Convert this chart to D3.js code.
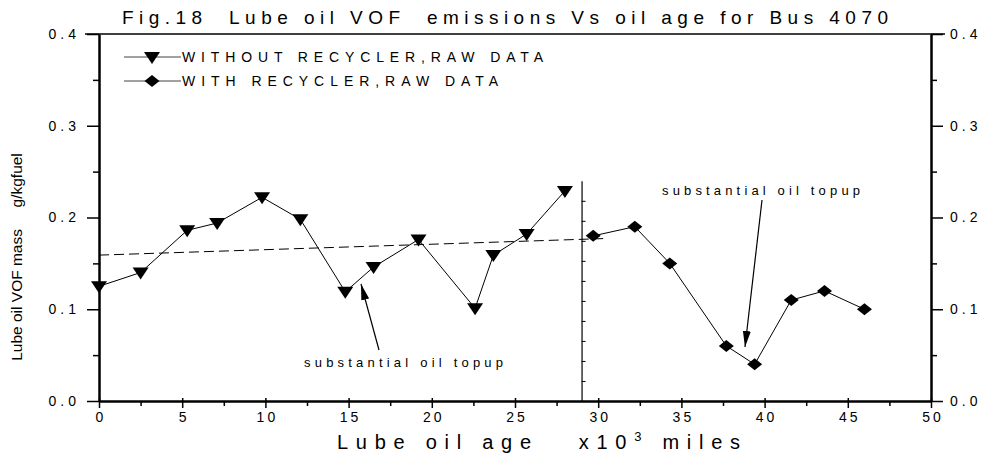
<!DOCTYPE html>
<html>
<head>
<meta charset="utf-8">
<script src="https://cdn.jsdelivr.net/npm/d3@7"></script>
<style>
  body { margin: 0; background: #fff; }
  svg text { font-family: "Liberation Sans", Arial, sans-serif; fill: #000; }
</style>
</head>
<body>
<div id="chart"></div>
<script>
var svgWidth = 982;
var svgHeight = 461;

// data (x = oil age in 1000 miles, y = g/kgfuel)
var withoutAge = [0, 2.5, 5.3, 7.1, 9.8, 12.1, 14.8, 16.5, 19.2, 22.6, 23.7, 25.7, 28.0];
var withoutVOF = [0.125, 0.140, 0.186, 0.194, 0.222, 0.198, 0.119, 0.146, 0.176, 0.101, 0.159, 0.182, 0.229];
var withAge = [29.7, 32.2, 34.3, 37.7, 39.4, 41.6, 43.6, 46.0];
var withVOF = [0.180, 0.190, 0.150, 0.060, 0.040, 0.110, 0.120, 0.100];
var trendAge = [0, 30.3];
var trendVOF = [0.159, 0.177];
var dividerAge = 29;
var dividerTop = 0.24;
var xMajor = [0, 5, 10, 15, 20, 25, 30, 35, 40, 45, 50];
var xMinor = [2.5, 7.5, 12.5, 17.5, 22.5, 27.5, 32.5, 37.5, 42.5, 47.5];
var yMajor = [0, 0.1, 0.2, 0.3, 0.4];
var yMinor = [0.05, 0.15, 0.25, 0.35];
var seriesNames = ["WITHOUT RECYCLER,RAW DATA", "WITH RECYCLER,RAW DATA"];

var svg = d3.select("#chart").append("svg")
  .attr("width", svgWidth)
  .attr("height", svgHeight);

var x = d3.scaleLinear().domain([0, 50]).range([99, 931]);
var y = d3.scaleLinear().domain([0, 0.4]).range([401, 34]);

// title
svg.append("text")
  .attr("x", 505).attr("y", 24)
  .attr("text-anchor", "middle")
  .attr("textLength", 766).attr("lengthAdjust", "spacing")
  .style("font-size", "19px")
  .style("white-space", "pre")
  .text("Fig.18  Lube oil VOF  emissions Vs oil age for Bus 4070");

// top frame
svg.append("line")
  .attr("x1", x(0) - 14).attr("x2", x(50) + 14)
  .attr("y1", y(0.4)).attr("y2", y(0.4))
  .attr("stroke", "#000").attr("stroke-width", 1.5);

function styleAxis(g, w) {
  g.select(".domain").attr("stroke-width", w);
  g.selectAll(".tick line").attr("stroke-width", 1.5);
  g.selectAll("text").style("font-size", "14px").style("font-family", "Liberation Sans, Arial, sans-serif");
}

// left axis
var leftMinor = svg.append("g").attr("transform", `translate(${x(0)},0)`)
  .call(d3.axisLeft(y).tickValues(yMinor).tickSize(6).tickFormat(""));
leftMinor.select(".domain").remove();
leftMinor.selectAll(".tick line").attr("stroke-width", 1.5);
var leftAxis = svg.append("g").attr("transform", `translate(${x(0)},0)`)
  .call(d3.axisLeft(y).tickValues(yMajor).tickSizeInner(12).tickSizeOuter(0).tickPadding(11).tickFormat(d3.format(".1f")));
styleAxis(leftAxis, 2.5);
leftAxis.selectAll("text").style("letter-spacing", "4px").attr("dx", "4px");

// right axis
var rightMinor = svg.append("g").attr("transform", `translate(${x(50)},0)`)
  .call(d3.axisRight(y).tickValues(yMinor).tickSize(6).tickFormat(""));
rightMinor.select(".domain").remove();
rightMinor.selectAll(".tick line").attr("stroke-width", 1.5);
var rightAxis = svg.append("g").attr("transform", `translate(${x(50)},0)`)
  .call(d3.axisRight(y).tickValues(yMajor).tickSizeInner(12).tickSizeOuter(0).tickPadding(7).tickFormat(d3.format(".1f")));
styleAxis(rightAxis, 2.5);
rightAxis.selectAll("text").style("letter-spacing", "4px");

// bottom axis
var bottomMinor = svg.append("g").attr("transform", `translate(0,${y(0)})`)
  .call(d3.axisBottom(x).tickValues(xMinor).tickSize(5).tickFormat(""));
bottomMinor.select(".domain").remove();
bottomMinor.selectAll(".tick line").attr("stroke-width", 1.5);
var bottomAxis = svg.append("g").attr("transform", `translate(0,${y(0)})`)
  .call(d3.axisBottom(x).tickValues(xMajor).tickSizeInner(7).tickSizeOuter(0).tickPadding(4));
styleAxis(bottomAxis, 2.5);
bottomAxis.selectAll(".tick line").attr("y1", -3);
bottomAxis.selectAll("text").style("letter-spacing", "3px").attr("dx", "1.5px");

// axis titles
var xTitle = svg.append("text")
  .attr("x", 337).attr("y", 449)
  .style("font-size", "20px")
  .style("white-space", "pre");
xTitle.append("tspan").text("Lube oil age   x10");
xTitle.append("tspan").attr("dy", -8).style("font-size", "13px").text("3");
xTitle.append("tspan").attr("dy", 8).text(" miles");
// spread the letters to the width seen in the figure
var natural = xTitle.node().getComputedTextLength();
var nChars = xTitle.text().length;
xTitle.style("letter-spacing", ((403 - natural) / (nChars - 1)) + "px");

svg.append("text")
  .attr("transform", `translate(22,${257}) rotate(-90)`)
  .attr("text-anchor", "middle")
  .style("font-size", "15.5px")
  .style("white-space", "pre")
  .text("Lube oil VOF mass     g/kgfuel");

// divider with its own little tick scale
var divY = d3.scaleLinear().domain([0, 11]).range([y(0), y(dividerTop)]);
var divider = svg.append("g").attr("transform", `translate(${x(dividerAge)},0)`)
  .call(d3.axisRight(divY).tickValues(d3.range(1, 11)).tickSizeInner(4).tickSizeOuter(0).tickFormat(""));
divider.select(".domain").attr("stroke-width", 1.2);
divider.selectAll(".tick line").attr("stroke-width", 1);

// dashed trend line
var trend = trendAge.map((d, i) => [d, trendVOF[i]]);
svg.append("path")
  .datum(trend)
  .attr("d", d3.line().x(d => x(d[0])).y(d => y(d[1])))
  .attr("fill", "none").attr("stroke", "#000").attr("stroke-width", 1)
  .attr("stroke-dasharray", "10,5");

var line = d3.line().x(d => x(d[0])).y(d => y(d[1]));
var withoutData = withoutAge.map((d, i) => [d, withoutVOF[i]]);
var withData = withAge.map((d, i) => [d, withVOF[i]]);

svg.append("path").datum(withoutData).attr("d", line)
  .attr("fill", "none").attr("stroke", "#000").attr("stroke-width", 1);
svg.append("path").datum(withData).attr("d", line)
  .attr("fill", "none").attr("stroke", "#000").attr("stroke-width", 1);

var triPath = "M-8,-5L8,-5L0,7Z";
var diaPath = "M-7.5,0L0,-6L7.5,0L0,6Z";

svg.selectAll(".tri").data(withoutData).enter().append("path")
  .attr("class", "tri")
  .attr("transform", d => `translate(${x(d[0])},${y(d[1])})`)
  .attr("d", triPath).attr("fill", "#000");
svg.selectAll(".dia").data(withData).enter().append("path")
  .attr("class", "dia")
  .attr("transform", d => `translate(${x(d[0])},${y(d[1])})`)
  .attr("d", diaPath).attr("fill", "#000");

// legend
var legendRows = [{ name: seriesNames[0], shape: triPath, y: 57, len: 361 },
                  { name: seriesNames[1], shape: diaPath, y: 81, len: 316 }];
legendRows.forEach(function(r) {
  svg.append("line").attr("x1", 124).attr("x2", 181).attr("y1", r.y).attr("y2", r.y)
    .attr("stroke", "#444").attr("stroke-width", 1);
  svg.append("path").attr("transform", `translate(152,${r.y})`).attr("d", r.shape).attr("fill", "#000");
  svg.append("text").attr("x", 182).attr("y", r.y + 5)
    .attr("textLength", r.len).attr("lengthAdjust", "spacing")
    .style("font-size", "14px").text(r.name);
});

// annotations with arrows
svg.append("defs").append("marker")
  .attr("id", "head").attr("viewBox", "0 0 16 8")
  .attr("refX", 16).attr("refY", 4)
  .attr("markerWidth", 16).attr("markerHeight", 8)
  .attr("markerUnits", "userSpaceOnUse")
  .attr("orient", "auto")
  .append("path").attr("d", "M0,0L16,4L0,8Z").attr("fill", "#000");

var notes = [
  { tx: 304, ty: 367, len: 199, from: [379, 350], to: [361, 284] },
  { tx: 662, ty: 195, len: 198, from: [762, 200], to: [745, 347] }
];
notes.forEach(function(n) {
  svg.append("text").attr("x", n.tx).attr("y", n.ty)
    .attr("textLength", n.len).attr("lengthAdjust", "spacing")
    .style("font-size", "13px").text("substantial oil topup");
  svg.append("line")
    .attr("x1", n.from[0]).attr("y1", n.from[1])
    .attr("x2", n.to[0]).attr("y2", n.to[1])
    .attr("stroke", "#000").attr("stroke-width", 1.2)
    .attr("marker-end", "url(#head)");
});
</script>
</body>
</html>
